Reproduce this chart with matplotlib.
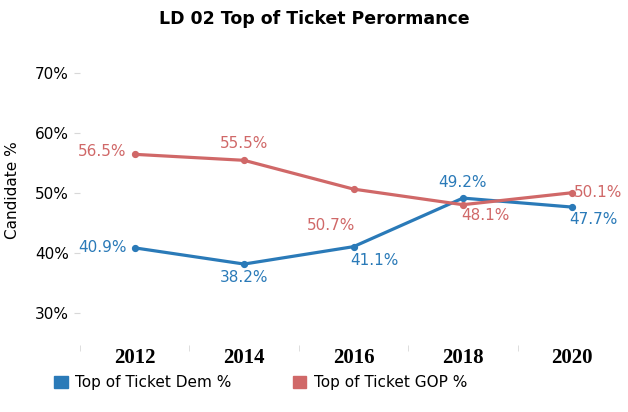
import matplotlib.pyplot as plt
from matplotlib.patches import Patch

years = ['2012', '2014', '2016', '2018', '2020']
dem = [40.9, 38.2, 41.1, 49.2, 47.7]
gop = [56.5, 55.5, 50.7, 48.1, 50.1]
y_ticks = [30, 40, 50, 60, 70]

blue = '#2a7ab8'
red = '#d06868'

fig = plt.figure(figsize=(6.28, 4.12), dpi=100)
ax = fig.add_axes([80 / 628, 1 - 345 / 412, 547 / 628, 295 / 412])

x = list(range(len(years)))
ax.plot(x, dem, color=blue, lw=2.3, marker='o', ms=4.2, zorder=3)
ax.plot(x, gop, color=red, lw=2.3, marker='o', ms=4.2, zorder=3)

# label placement (dx, dy in points, ha)
dem_pos = [(-6, 0, 'right'), (0, -10, 'center'), (-2, -10, 'left'), (0, 11, 'center'), (-2, -9, 'left')]
gop_pos = [(-6, 2, 'right'), (0, 12, 'center'), (-16, -26, 'center'), (-1, -8, 'left'), (1, 0, 'left')]
for vals, pos, c in [(dem, dem_pos, blue), (gop, gop_pos, red)]:
    for i, v in enumerate(vals):
        dx, dy, ha = pos[i]
        ax.annotate(f'{v:.1f}%', (i, v), xytext=(dx, dy), textcoords='offset points',
                    ha=ha, va='center', color=c, fontsize=11)

ax.set_xlim(-0.5, 4.5)
ax.set_ylim(24.7, 73.9)
ax.set_yticks(y_ticks)
ax.set_yticklabels([f'{t}%' for t in y_ticks], fontsize=11)
ax.set_xticks(x)
ax.set_xticklabels(years, fontsize=15, fontweight='bold', family='Liberation Serif')
ax.tick_params(axis='x', length=0, pad=2)
ax.tick_params(axis='y', length=4, color='#d8d8d8', pad=4)
# band boundary tick marks
ax.set_xticks([-0.5, 0.5, 1.5, 2.5, 3.5], minor=True)
ax.tick_params(axis='x', which='minor', length=4, color='#d8d8d8')
for s in ax.spines.values():
    s.set_visible(False)

ax.set_ylabel('Candidate %', fontsize=11)
ax.yaxis.set_label_coords(-60 / 547, 0.525)
fig.suptitle('LD 02 Top of Ticket Perormance', x=0.5, y=0.975, fontsize=12.5, fontweight='bold')

handles = [Patch(color=blue, label='Top of Ticket Dem %'),
           Patch(color=red, label='Top of Ticket GOP %')]
fig.legend(handles=handles, loc='lower left', bbox_to_anchor=(40 / 628, 8 / 412), ncol=2,
           frameon=False, fontsize=11, handlelength=0.9, handleheight=0.9,
           handletextpad=0.5, columnspacing=4)

fig.savefig('out.png', dpi=100)
